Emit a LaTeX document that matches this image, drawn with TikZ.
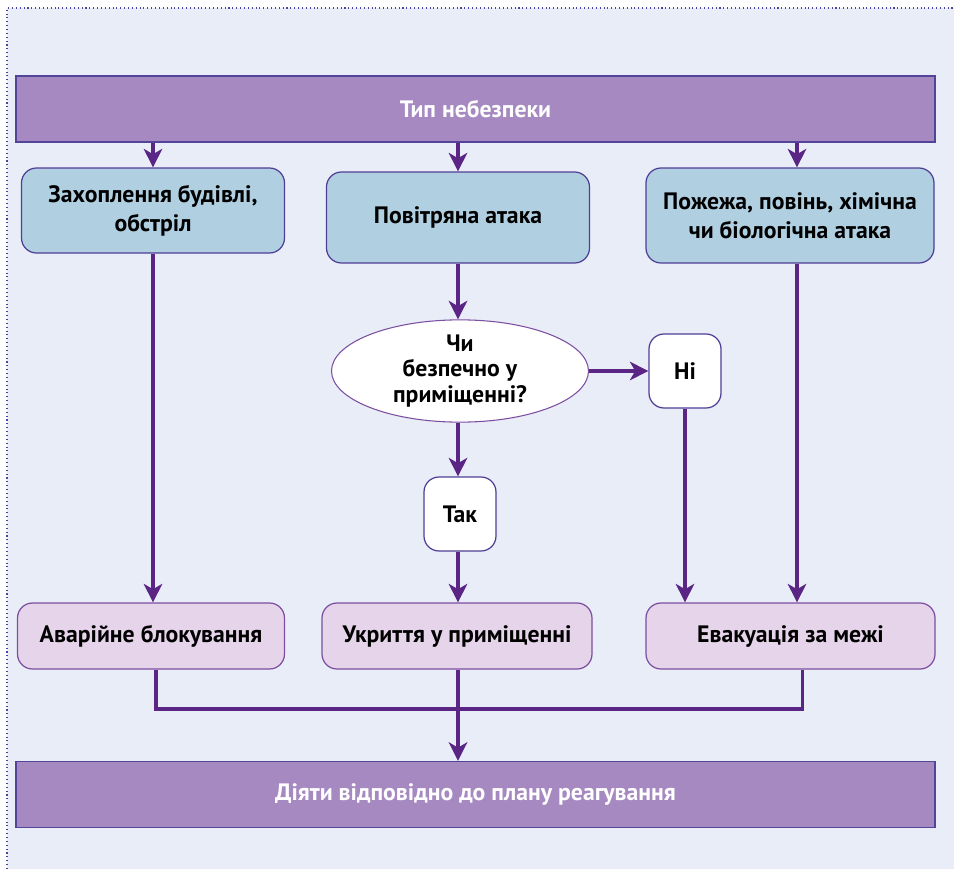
\documentclass[tikz,border=0pt]{standalone}
\usepackage{fontspec}
\setmainfont{PT Sans}
\usetikzlibrary{arrows.meta, positioning, shapes.geometric}

\definecolor{bgblue}{RGB}{233,237,248}
\definecolor{dotcol}{RGB}{70,70,160}
\definecolor{barfill}{RGB}{166,137,192}
\definecolor{barline}{RGB}{82,68,152}
\definecolor{kindfill}{RGB}{176,208,226}
\definecolor{boxline}{RGB}{78,62,150}
\definecolor{actfill}{RGB}{230,212,234}
\definecolor{actline}{RGB}{124,78,160}
\definecolor{arrowcol}{RGB}{90,37,133}

\begin{document}
\begin{tikzpicture}[
    on grid,
    font=\bfseries\fontsize{13.5}{16.5}\selectfont,
    bar/.style={draw=barline, fill=barfill, line width=0.8pt, text=white, minimum width=18.38cm, minimum height=1.32cm},
    kind/.style={draw=boxline, fill=kindfill, rounded corners=0.3cm, line width=0.7pt, align=center},
    action/.style={draw=actline, fill=actfill, rounded corners=0.3cm, line width=0.7pt, minimum height=1.32cm},
    answer/.style={draw=boxline, fill=white, rounded corners=0.3cm, line width=0.7pt, minimum width=1.44cm, minimum height=1.48cm},
    decision/.style={ellipse, draw=actline, fill=white, line width=0.6pt, minimum width=5.14cm, minimum height=2.04cm, inner sep=0pt, align=center, font=\bfseries\fontsize{13.5}{14.5}\selectfont},
    flow/.style={draw=arrowcol, line width=2.2pt},
    arr/.style={flow, -{Stealth[length=10.5pt, width=10.5pt, inset=3pt]}}
]

    % Background
    \useasboundingbox (0,0) rectangle (19.08,-17.38);
    \fill[bgblue] (0.14,-0.16) rectangle (19.08,-17.38);
    \draw[dotcol, line width=0.6pt, dash pattern=on 0.6pt off 1.6pt] (0.14,-17.38) -- (0.14,-0.16) -- (19.08,-0.16);

    % Boxes
    \node[bar] (hazard) at (9.51,-2.18) {Тип небезпеки};
    \node[kind, minimum width=5.26cm, minimum height=1.7cm] (siege) at (3.06,-4.21) {Захоплення будівлі,\\обстріл};
    \node[kind, minimum width=5.26cm, minimum height=1.82cm] (air) at (9.16,-4.35) {Повітряна атака};
    \node[kind, minimum width=5.76cm, minimum height=1.9cm] (fire) at (15.8,-4.31) {Пожежа, повінь, хімічна\\чи біологічна атака};
    \node[decision] (safe) at (9.2,-7.42) {Чи\\безпечно у\\приміщенні?};
    \node[answer] (no) [right=4.5cm of safe] {Ні};
    \node[answer] (yes) [below=2.86cm of safe] {Так};
    \node[action, minimum width=5.34cm] (lock) at (3.02,-12.72) {Аварійне блокування};
    \node[action, minimum width=5.4cm] (shelter) at (9.14,-12.72) {Укриття у приміщенні};
    \node[action, minimum width=5.78cm] (evac) at (15.81,-12.72) {Евакуація за межі};
    \node[bar] (act) at (9.51,-15.89) {Діяти відповідно до плану реагування};

    % Arrows
    \draw[arr] (hazard.south -| siege) -- (siege);
    \draw[arr] (hazard.south -| air) -- (air);
    \draw[arr] ([xshift=0.14cm]hazard.south -| fire) -- ([xshift=0.14cm]fire.north);
    \draw[arr] (air) -- (air |- safe.north);
    \draw[arr] (safe) -- (no);
    \draw[arr] (safe.south -| air) -- (air |- yes.north);
    \draw[arr] (siege) -- (siege |- lock.north);
    \draw[arr] (yes.south -| air) -- (air |- shelter.north);
    \draw[arr] (no) -- (no |- evac.north);
    \draw[arr] ([xshift=0.14cm]fire.south) -- ([xshift=0.14cm]fire.south |- evac.north);
    \draw[flow] ([xshift=0.1cm]lock.south) -- ++(0,-0.78) -| ([xshift=0.24cm]evac.south);
    \draw[arr] (air |- shelter.south) -- (air |- act.north);
\end{tikzpicture}
\end{document}
